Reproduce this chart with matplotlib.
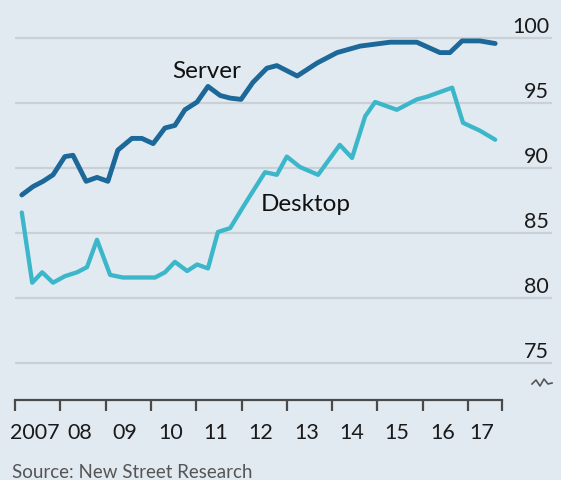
import matplotlib
matplotlib.use("Agg")
import matplotlib.pyplot as plt
from matplotlib.lines import Line2D
import matplotlib.transforms as mtransforms

# ---- data ----
server_x = [2007.15, 2007.40, 2007.62, 2007.84, 2008.10, 2008.28, 2008.57, 2008.81,
            2009.05, 2009.27, 2009.58, 2009.80, 2010.05, 2010.31, 2010.53, 2010.75,
            2011.02, 2011.26, 2011.53, 2011.75, 2011.99, 2012.25, 2012.56, 2012.78,
            2013.23, 2013.67, 2014.11, 2014.62, 2015.28, 2015.87, 2016.38, 2016.60,
            2016.87, 2017.26, 2017.60]
server_y = [87.95, 88.6, 89.0, 89.5, 90.9, 91.0, 89.0, 89.3,
            89.0, 91.4, 92.3, 92.3, 91.9, 93.1, 93.3, 94.5,
            95.1, 96.3, 95.6, 95.4, 95.3, 96.6, 97.7, 97.9,
            97.1, 98.1, 98.9, 99.4, 99.7, 99.7, 98.9, 98.9,
            99.8, 99.8, 99.6]

desktop_x = [2007.15, 2007.38, 2007.60, 2007.84, 2008.10, 2008.37, 2008.59, 2008.81,
             2009.10, 2009.38, 2009.76, 2010.09, 2010.31, 2010.53, 2010.80, 2011.02,
             2011.26, 2011.48, 2011.75, 2012.03, 2012.30, 2012.52, 2012.78, 2013.00,
             2013.29, 2013.69, 2014.17, 2014.44, 2014.73, 2014.95, 2015.43, 2015.87,
             2016.09, 2016.65, 2016.89, 2017.26, 2017.60]
desktop_y = [86.6, 81.2, 82.0, 81.2, 81.7, 82.0, 82.4, 84.5,
             81.8, 81.6, 81.6, 81.6, 82.0, 82.8, 82.1, 82.6,
             82.3, 85.1, 85.4, 87.0, 88.5, 89.7, 89.5, 90.9,
             90.1, 89.5, 91.8, 90.8, 94.0, 95.1, 94.5, 95.3,
             95.5, 96.2, 93.5, 92.9, 92.2]

year_ticks = [2007, 2008, 2009, 2010, 2011, 2012, 2013, 2014, 2015, 2016, 2017]
year_labels = ["2007", "08", "09", "10", "11", "12", "13", "14", "15", "16", "17"]
y_ticks = [75, 80, 85, 90, 95, 100]

# ---- style ----
BG = "#e2eaf1"
GRID = "#c9d1d7"
SERVER_C = "#1b6899"
DESKTOP_C = "#3cb6c9"
FONT = "Lato"

W, H = 561, 480
fig = plt.figure(figsize=(W / 100, H / 100), dpi=100, facecolor=BG)

# axes pixel box
left_px, right_px, bottom_px, top_px = 15, 552, 400, 10
ax = fig.add_axes([left_px / W, (H - bottom_px) / H,
                   (right_px - left_px) / W, (bottom_px - top_px) / H])
ax.set_facecolor(BG)

px_per_year = 45.3
px_per_unit = 13.0
x_end_axis = 2017.75
ax.set_xlim(2007, 2007 + (right_px - left_px) / px_per_year)
ymin = 100 - (bottom_px - 38.3) / px_per_unit
ymax = 100 + (38.3 - top_px) / px_per_unit
ax.set_ylim(ymin, ymax)

for s in ["top", "right", "left"]:
    ax.spines[s].set_visible(False)
ax.spines["bottom"].set_bounds(2007, x_end_axis)
ax.spines["bottom"].set_color("#4a4a4a")
ax.spines["bottom"].set_linewidth(1.6)

# gridlines
for v in y_ticks:
    ax.axhline(v, color=GRID, lw=1.6, zorder=1)

ax.set_yticks([])
ax.set_xticks(year_ticks + [x_end_axis])
ax.set_xticklabels([])
ax.tick_params(axis="x", direction="out", length=8, width=1.6, color="#4a4a4a")

# lines
ax.plot(server_x, server_y, color=SERVER_C, lw=3.5, solid_joinstyle="round",
        solid_capstyle="round", zorder=3)
ax.plot(desktop_x, desktop_y, color=DESKTOP_C, lw=3.1, solid_joinstyle="round",
        solid_capstyle="round", zorder=3)

# y labels (right side, above gridlines)
ytrans = mtransforms.blended_transform_factory(ax.transAxes, ax.transData)
for v in y_ticks:
    ax.annotate(str(v), xy=(1, v), xycoords=ytrans, xytext=(-3, 5),
                textcoords="offset pixels", ha="right", va="baseline",
                fontsize=15.5, family=FONT, color="#1a1a1a")

# x labels
xtrans = mtransforms.blended_transform_factory(ax.transData, ax.transAxes)
for yr, lab in zip(year_ticks, year_labels):
    pos = yr + (0.30 if lab == "17" else 0.43)
    ax.annotate(lab, xy=(pos, 0), xycoords=xtrans, xytext=(0, -39),
                textcoords="offset pixels", ha="center", va="baseline",
                fontsize=15.5, family=FONT, color="#1a1a1a")

# series labels
ax.text(2011.24, 96.95, "Server", ha="center", va="baseline", fontsize=17.5,
        family=FONT, color="#111111", zorder=4)
ax.text(2013.42, 86.7, "Desktop", ha="center", va="baseline", fontsize=17.5,
        family=FONT, color="#111111", zorder=4)

# axis break symbol
zx = [532, 536, 540, 544, 548, 552]
zy = [384, 380, 386, 379, 384, 383]
fig.add_artist(Line2D([x / W for x in zx], [(H - y) / H for y in zy],
                      color="#555555", lw=1.2, transform=fig.transFigure))

# source
fig.text(12 / W, (H - 478) / H, "Source: New Street Research", ha="left",
         va="baseline", fontsize=13.5, family=FONT, color="#555555")

fig.savefig("out.png", dpi=100, facecolor=BG)
